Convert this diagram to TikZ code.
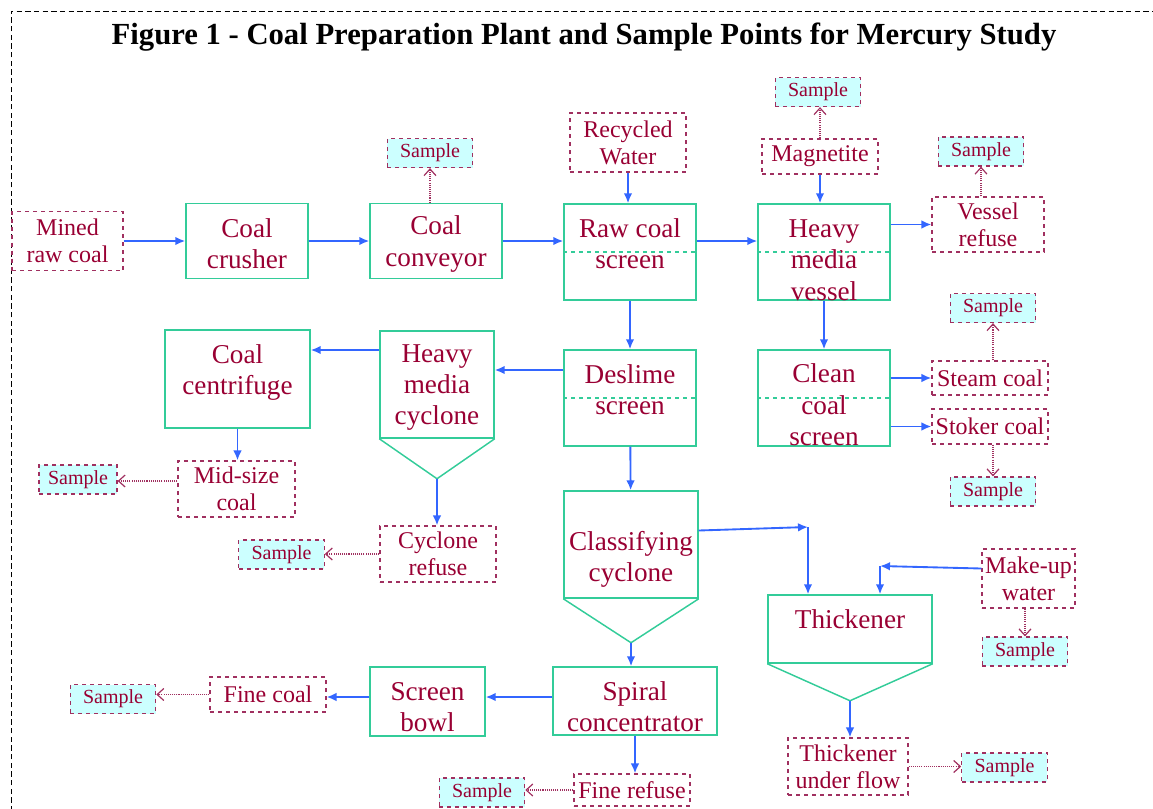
\documentclass[tikz,border=0pt]{standalone}
\usepackage{fontspec}
\setmainfont{Liberation Serif}
\usepackage{xcolor}
\usetikzlibrary{arrows.meta, positioning, calc}
\definecolor{procgreen}{RGB}{51,204,153}
\definecolor{flowblue}{RGB}{51,102,255}
\definecolor{labelred}{RGB}{153,0,51}
\definecolor{dashred}{RGB}{160,48,96}
\definecolor{samplecyan}{RGB}{204,255,255}
\tikzset{
  procnode/.style 2 args={draw=procgreen, line width=1.1pt, minimum width=#1*0.75pt, minimum height=#2*0.75pt, inner sep=0pt},
  proctext/.style={inner sep=0pt, align=center, text=labelred, font=\fontsize{20.4}{23.5}\selectfont},
  streamnode/.style 2 args={draw=dashred, dashed, line width=0.9pt, minimum width=#1*0.75pt, minimum height=#2*0.75pt, inner sep=0pt, align=center, text=labelred, font=\fontsize{18}{20.3}\selectfont},
  samplenode/.style={draw=dashred, dashed, fill=samplecyan, line width=0.9pt, minimum width=64pt, minimum height=21.75pt, inner sep=0pt, text=labelred, font=\fontsize{15}{17}\selectfont},
  procline/.style={procgreen, line width=1.1pt},
  divider/.style={procgreen, dashed, line width=0.9pt},
  arrow/.style={-{Latex[length=7.5pt, width=6.5pt]}, flowblue, line width=1.4pt},
  samplearrow/.style={-{Straight Barb[length=5pt, width=9pt]}, dashred, dash pattern=on 0.8pt off 0.8pt, line width=0.9pt}
}
\begin{document}
\begin{tikzpicture}[x=0.75pt, y=-0.75pt]
\useasboundingbox (0,0) rectangle (1153,808);

% Frame and title
\draw[dash pattern=on 4pt off 2.5pt, line width=0.6pt] (11,820) -- (11,11) -- (1165,11);
\node[font=\fontsize{23}{27}\selectfont\bfseries] (title) at (584,37) {Figure 1 - Coal Preparation Plant and Sample Points for Mercury Study};

% Top row
\node[streamnode={111}{59}] (mined) at (67.5,241) {Mined\\raw coal};
\node[procnode={122}{75}] (crusher) at (247,241) {};
\node[proctext] (crusher-t) at (247,244) {Coal\\crusher};
\node[procnode={132}{75}] (conveyor) at (436,241) {};
\node[proctext] (conveyor-t) at (436,244) {Coal\\conveyor};
\node[samplenode] (s-conv) at (430,153) {Sample};
\node[procnode={132}{96}] (rcs) at (630,252) {};
\node[proctext] (rcs-t) at (630,244) {Raw coal\\screen};
\node[streamnode={116}{59}] (recycled) at (628,142.5) {Recycled\\Water};
\node[procnode={132}{96}] (hmv) at (824,252) {};
\node[proctext] (hmv-t) at (824,260) {Heavy\\media\\vessel};
\node[streamnode={116}{35}] (magnetite) at (820,156.5) {Magnetite};
\node[samplenode] (s-mag) at (818,92) {Sample};
\node[streamnode={112}{55}] (vrefuse) at (988,224.5) {Vessel\\refuse};
\node[samplenode] (s-vref) at (981,151.5) {Sample};

\draw[divider] (rcs.west) -- (rcs.east);
\draw[divider] (hmv.west) -- (hmv.east);
\draw[arrow] (mined) -- (crusher);
\draw[arrow] (crusher) -- (conveyor);
\draw[arrow] (conveyor) -- (conveyor -| rcs.west);
\draw[arrow] (conveyor -| rcs.east) -- (conveyor -| hmv.west);
\draw[arrow] (recycled) -- (recycled |- rcs.north);
\draw[arrow] (magnetite) -- (magnetite |- hmv.north);
\draw[arrow] (vrefuse -| hmv.east) -- (vrefuse.west);
\draw[samplearrow] (conveyor.north -| s-conv) -- (s-conv.south);
\draw[samplearrow] (magnetite.north) -- (magnetite.north |- s-mag.south);
\draw[samplearrow] (vrefuse.north -| s-vref) -- (s-vref.south);

% Middle row
\node[procnode={132}{96}] (deslime) at (630,398) {};
\node[proctext] (deslime-t) at (630,390) {Deslime\\screen};
\node[procnode={132}{96}] (ccs) at (824,398) {};
\node[proctext] (ccs-t) at (824,405) {Clean\\coal\\screen};
\node[streamnode={116}{34}] (steam) at (990,378) {Steam coal};
\node[samplenode] (s-steam) at (993,308) {Sample};
\node[streamnode={116}{35}] (stoker) at (990,426.5) {Stoker coal};
\node[samplenode] (s-stoker) at (993,491.5) {Sample};
\node[procnode={114}{107}] (hmc) at (437,384.5) {};
\node[proctext] (hmc-t) at (437,387.5) {Heavy\\media\\cyclone};
\coordinate (hmc-tip) at ($(hmc.south)+(0,40)$);
\node[procnode={145}{98}] (centrifuge) at (237.5,379) {};
\node[proctext] (centrifuge-t) at (237.5,372.5) {Coal\\centrifuge};
\node[streamnode={117}{56}] (midsize) at (236.5,489) {Mid-size\\coal};
\node[samplenode, minimum width=58.5pt] (s-mid) at (78,479.5) {Sample};
\node[streamnode={116}{56}] (crefuse) at (438,554) {Cyclone\\refuse};
\node[samplenode] (s-cref) at (281.5,554.5) {Sample};

\draw[divider] (deslime.west) -- (deslime.east);
\draw[divider] (ccs.west) -- (ccs.east);
\draw[procline] (hmc.south west) -- (hmc-tip) -- (hmc.south east);
\draw[arrow] (rcs) -- (deslime);
\draw[arrow] (hmv) -- (ccs);
\draw[arrow] (steam -| ccs.east) -- (steam.west);
\draw[arrow] (stoker -| ccs.east) -- (stoker.west);
\draw[samplearrow] (steam.north -| s-steam) -- (s-steam.south);
\draw[samplearrow] (stoker.south -| s-stoker) -- (s-stoker.north);
\draw[arrow] ($(deslime.west)+(0,-28)$) -- ($(hmc.east)+(0,-14.5)$);
\draw[arrow] ($(hmc.west)+(0,-34.5)$) -- ($(centrifuge.east)+(0,-29)$);
\draw[arrow] (centrifuge.south) -- (centrifuge.south |- midsize.north);
\draw[samplearrow] ($(midsize.west)+(0,-8)$) -- ($(s-mid.east)+(0,1.5)$);
\draw[arrow] (hmc-tip) -- (hmc-tip |- crefuse.north);
\draw[samplearrow] (crefuse.west) -- (crefuse.west -| s-cref.east);

% Bottom rows
\node[procnode={134}{107}] (classcyc) at (631,544.5) {};
\node[proctext] (classcyc-t) at (631,559.5) {Classifying\\cyclone};
\coordinate (cc-tip) at ($(classcyc.south)+(0,44)$);
\node[procnode={164}{68}] (thickener) at (850,629) {};
\node[proctext] (thickener-t) at (850,619) {Thickener};
\coordinate (th-tip) at ($(thickener.south)+(0,37)$);
\coordinate (feed-bend) at (808,527);
\node[streamnode={93}{59}] (makeup) at (1028.5,578.5) {Make-up\\water};
\coordinate (water-bend) at (880,566);
\node[samplenode] (s-makeup) at (1025,651.5) {Sample};
\node[streamnode={120}{57}] (underflow) at (848,766.5) {Thickener\\under flow};
\node[samplenode] (s-under) at (1004.5,767.5) {Sample};
\node[procnode={164}{68}] (spiral) at (635,701) {};
\node[proctext] (spiral-t) at (635,707) {Spiral\\concentrator};
\node[procnode={115}{69}] (bowl) at (427.5,701.5) {};
\node[proctext] (bowl-t) at (427.5,707) {Screen\\bowl};
\node[streamnode={116}{35}] (finecoal) at (268,694.5) {Fine coal};
\node[samplenode] (s-fine) at (113,699) {Sample};
\node[streamnode={116}{32}] (finerefuse) at (632,790) {Fine refuse};
\node[samplenode] (s-frefuse) at (482,792.5) {Sample};

\draw[procline] (classcyc.south west) -- (cc-tip) -- (classcyc.south east);
\draw[procline] (thickener.south west) -- (th-tip) -- (thickener.south east);
\draw[arrow] (deslime) -- (classcyc);
\draw[arrow] ($(classcyc.east)+(0,-14)$) -- (feed-bend);
\draw[arrow] (feed-bend) -- (feed-bend |- thickener.north);
\draw[arrow] ($(makeup.west)+(0,-10)$) -- (water-bend);
\draw[arrow] (water-bend) -- (water-bend |- thickener.north);
\draw[samplearrow] (makeup.south -| s-makeup) -- (s-makeup.north);
\draw[arrow] (th-tip) -- (th-tip |- underflow.north);
\draw[samplearrow] (underflow.east) -- (underflow.east -| s-under.west);
\draw[arrow] (cc-tip) -- (cc-tip |- spiral.north);
\draw[arrow] ($(spiral.west)+(0,-4)$) -- ($(bowl.east)+(0,-4.5)$);
\draw[arrow] ($(bowl.west)+(0,-4.5)$) -- ($(finecoal.east)+(0,2.5)$);
\draw[samplearrow] (finecoal.west) -- (finecoal.west -| s-fine.east);
\draw[arrow] (spiral.south) -- (spiral.south |- finerefuse.north);
\draw[samplearrow] (finerefuse.west) -- (finerefuse.west -| s-frefuse.east);

\end{tikzpicture}
\end{document}
